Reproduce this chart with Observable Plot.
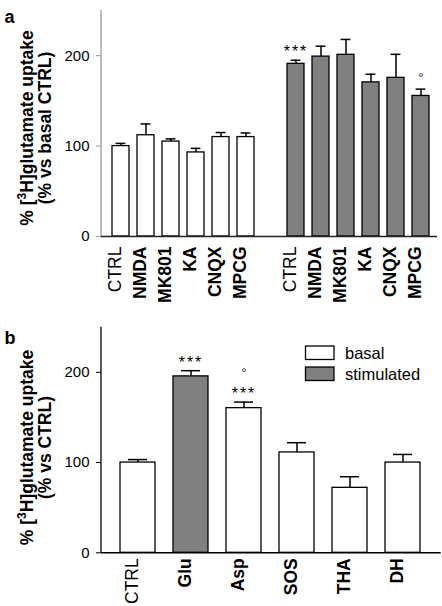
<!DOCTYPE html>
<html><head><meta charset="utf-8">
<script src="https://cdn.jsdelivr.net/npm/d3@7"></script>
<script src="https://cdn.jsdelivr.net/npm/@observablehq/plot@0.6"></script>
<style>
html,body{margin:0;padding:0;background:#fff;}
#root{position:relative;width:442px;height:606px;overflow:hidden;background:#fff;}
#root svg{position:absolute;left:0;display:block;overflow:visible;}
</style></head><body><div id="root"></div>
<script>
// ---------- Data ----------
// Panel a
const drugsA = ["CTRL", "NMDA", "MK801", "KA", "CNQX", "MPCG"];
const basalMeanA = [100, 112, 105, 93, 110, 110];
const basalSemA  = [3, 12.5, 3, 4.5, 5, 4.5];
const stimMeanA  = [191, 199, 201, 170.5, 175.5, 155.5];
const stimSemA   = [4, 11.5, 17, 9, 26, 7.5];
const annotA = [
  {group: "stimulated", drug: "CTRL", label: "***"},
  {group: "stimulated", drug: "MPCG", label: "°"}
];
// Panel b
const drugsB = ["CTRL", "Glu", "Asp", "SOS", "THA", "DH"];
const conditionB = ["basal", "stimulated", "basal", "basal", "basal", "basal"];
const meanB = [100, 195.5, 160.3, 111.2, 72, 100];
const semB  = [3.3, 6.3, 6.7, 10.8, 12.3, 9];
const annotB = [
  {drug: "Glu", label: "***"},
  {drug: "Asp", label: "***"},
  {drug: "Asp", label: "°"}
];
const yTicks = [0, 100, 200];
const yDomain = [0, 250];
const groups = ["basal", "stimulated"];
const groupColors = ["white", "#808080"];
const titleA = "% [³H]glutamate uptake\n(% vs basal CTRL)";
const titleB = "% [³H]glutamate uptake\n(% vs CTRL)";

// ---------- Tables ----------
const rowsA = [
  ...drugsA.map((d, i) => ({key: "b:" + d, drug: d, group: "basal", mean: basalMeanA[i], top: basalMeanA[i] + basalSemA[i]})),
  ...drugsA.map((d, i) => ({key: "s:" + d, drug: d, group: "stimulated", mean: stimMeanA[i], top: stimMeanA[i] + stimSemA[i]}))
];
const domainA = [...drugsA.map(d => "b:" + d), "gap", ...drugsA.map(d => "s:" + d)];
const rowsB = drugsB.map((d, i) => ({key: d, drug: d, group: conditionB[i], mean: meanB[i], top: meanB[i] + semB[i]}));

function annotRows(list, rows, keyOf) {
  const counts = new Map();
  return list.map(a => {
    const k = keyOf(a);
    const lvl = counts.get(k) || 0;
    counts.set(k, lvl + 1);
    const r = rows.find(r => r.key === k);
    const star = a.label.includes("*");
    return {key: k, top: r.top, label: a.label, star, dy: (star ? -8 : -11) - 18 * lvl};
  });
}
const annA = annotRows(annotA, rowsA, a => (a.group === "stimulated" ? "s:" : "b:") + a.drug);
const annB = annotRows(annotB, rowsB, a => a.drug);

const FONT = "Liberation Sans, Arial, Helvetica, sans-serif";

function axisLine(color) {
  return (index, scales, values, dims) => {
    const l = document.createElementNS("http://www.w3.org/2000/svg", "line");
    l.setAttribute("x1", dims.marginLeft);
    l.setAttribute("x2", dims.marginLeft);
    l.setAttribute("y1", dims.marginTop);
    l.setAttribute("y2", dims.height - dims.marginBottom);
    l.setAttribute("stroke", color);
    l.setAttribute("stroke-width", 1.3);
    return l;
  };
}

function panel(o) {
  const marks = [
    axisLine(o.axisColor),
    Plot.axisY({ticks: yTicks, tickSize: 5, tickPadding: 7, fontSize: 15, stroke: o.axisColor, fill: "black", label: null}),
    Plot.barY(o.rows, {x: "key", y: "mean", fill: "group", stroke: "black", strokeWidth: 1.3}),
    Plot.ruleX(o.rows, {x: "key", y1: "mean", y2: "top", stroke: "black", strokeWidth: 1.5}),
    Plot.tickY(o.rows, {x: "key", y: "top", stroke: "black", strokeWidth: 1.5, insetLeft: o.capInset, insetRight: o.capInset}),
    Plot.ruleY([0], {stroke: o.baseColor, strokeWidth: 1.4}),
    Plot.text(o.rows.filter(d => d.drug === "CTRL"), {x: "key", text: "drug", frameAnchor: "bottom", rotate: -90, textAnchor: "end", dy: o.labelGap, fontSize: 17.5, fill: "black"}),
    Plot.text(o.rows.filter(d => d.drug !== "CTRL"), {x: "key", text: "drug", frameAnchor: "bottom", rotate: -90, textAnchor: "end", dy: o.labelGap, fontSize: 17.5, fontWeight: "bold", fill: "black"}),
    ...o.ann.map(d => Plot.text([d], {x: "key", y: "top", text: "label", dy: d.dy, fontSize: d.star ? 16 : 12, fill: "black"})),
    Plot.text([o.title], {text: d => d, frameAnchor: "left", rotate: -90, textAnchor: "middle", lineAnchor: "middle", lineHeight: 1, dx: -65, dy: o.titleDy, fontSize: 17.5, fontWeight: "bold", fill: "black"}),
    Plot.text([o.letter], {text: d => d, frameAnchor: "top-left", textAnchor: "start", lineAnchor: "bottom", dx: -97, dy: o.letterDy, fontSize: 18, fontWeight: "bold", fill: "black"})
  ];
  const svg = Plot.plot({
    width: 442,
    height: o.height,
    marginTop: o.marginTop,
    marginBottom: o.marginBottom,
    marginLeft: 101,
    marginRight: o.marginRight,
    style: {fontFamily: FONT, fontSize: "15px", background: "transparent", color: "black", overflow: "visible"},
    x: {type: "band", domain: o.domain, axis: null, paddingInner: o.padding, paddingOuter: o.padding / 2, insetLeft: o.insetLeft, insetRight: o.insetRight},
    y: {domain: yDomain, axis: null},
    color: {domain: groups, range: groupColors},
    marks
  });
  // raise the superscript 3
  svg.querySelectorAll("tspan, text").forEach(el => {
    for (const node of Array.from(el.childNodes)) {
      if (node.nodeType === 3 && node.textContent.includes("³")) {
        const [before, after] = node.textContent.split("³");
        const ns = "http://www.w3.org/2000/svg";
        const sup = document.createElementNS(ns, "tspan");
        sup.setAttribute("dy", "-7");
        sup.setAttribute("font-size", "12");
        sup.textContent = "3";
        const rest = document.createElementNS(ns, "tspan");
        rest.setAttribute("dy", "7");
        rest.textContent = after;
        el.insertBefore(document.createTextNode(before), node);
        el.insertBefore(sup, node);
        el.insertBefore(rest, node);
        el.removeChild(node);
      }
    }
  });
  svg.querySelectorAll("text").forEach(t => {
    if (t.textContent === "***") t.setAttribute("letter-spacing", "2");
  });
  return svg;
}

const root = document.getElementById("root");

const svgA = panel({
  rows: rowsA, domain: domainA, ann: annA, title: titleA, letter: "a",
  height: 306, marginTop: 10, marginBottom: 70, marginRight: 5,
  padding: 0.32, insetLeft: 5.4, insetRight: 1.7, capInset: 3.6,
  labelGap: 10, titleDy: 4.5, letterDy: 12,
  axisColor: "#999", baseColor: "#222"
});
svgA.style.top = "0px";
root.appendChild(svgA);

const svgB = panel({
  rows: rowsB, domain: drugsB, ann: annB, title: titleB, letter: "b",
  height: 300, marginTop: 20.7, marginBottom: 53.7, marginRight: 1.3,
  padding: 0.34, insetLeft: 9, insetRight: 10.3, capInset: 8,
  labelGap: 5.5, titleDy: 7.5, letterDy: 16.3,
  axisColor: "black", baseColor: "black"
});
svgB.style.top = "306px";
root.appendChild(svgB);

// legend inside panel b (built from the color scale's domain)
const leg = d3.select(svgB).append("g")
  .attr("font-family", FONT).attr("font-size", 16.5).attr("text-anchor", "start");
groups.forEach((g, i) => {
  const y0 = 40 + i * 21;
  leg.append("rect").attr("x", 305.5).attr("y", y0).attr("width", 28.5).attr("height", 13.5)
    .attr("fill", groupColors[i]).attr("stroke", "black").attr("stroke-width", 1.3);
  leg.append("text").attr("x", 345).attr("y", y0 + 12.5).attr("fill", "black").text(g);
});
</script></body></html>
